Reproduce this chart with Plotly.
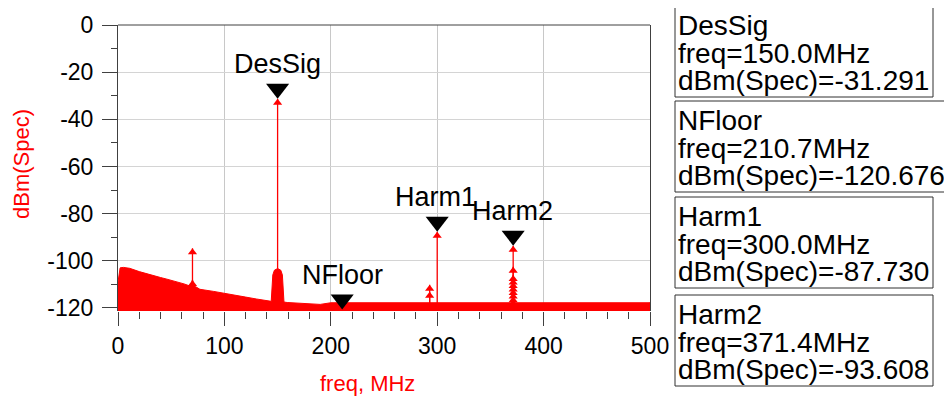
import plotly.graph_objects as go

# ---------------- data ----------------
# Upper envelope of the dense noise spectrum, freq in MHz, level in dBm
env_freq = [0, 1, 2, 5, 11, 20, 30, 40, 46, 55, 62, 67, 69, 70, 71, 73, 77, 90,
            100, 108, 120, 130, 140, 144, 145.5, 147, 150, 153, 154.5, 156, 159,
            170, 177, 190, 200, 500]
env_dbm = [-109, -104.5, -103, -102.8, -103.2, -104.6, -106, -107.1, -107.8,
           -108.8, -109.8, -110.6, -110.2, -108.1, -110.3, -111, -112.1, -113,
           -113.7, -114.5, -115.4, -116.2, -116.9, -117.2, -106, -104, -103.3,
           -104, -106, -117.5, -117.7, -118, -118.3, -118.5, -117.8, -117.8]
floor_base = -125.0

# Discrete spectral lines (tones) with arrow tips
spike_freq = [70, 70, 150, 292.9, 292.9, 300,
              371.4, 371.4, 371.4, 371.4, 371.4, 371.4, 371.4, 371.4, 371.4, 371.4,
              499.5]
spike_dbm = [-94.7, -108.2, -31.291, -110.2, -113.1, -87.730,
             -93.608, -102.5, -106.0, -107.5, -109.0, -110.5, -112.0, -113.5, -115.0, -116.5,
             -117.8]

# ADS markers
marker_names = ["DesSig", "NFloor", "Harm1", "Harm2"]
marker_freq = [150.0, 210.7, 300.0, 371.4]
marker_dbm = [-31.291, -120.676, -87.730, -93.608]

x_ticks = [0, 100, 200, 300, 400, 500]
y_ticks = [0, -20, -40, -60, -80, -100, -120]

# ---------------- layout geometry ----------------
OFF = 8                      # page body margin
W, H = 952 - OFF, 400 - OFF
L, T = 118 - OFF, 25 - OFF
PW, PH = 532, 286
R, B = W - L - PW, H - T - PH
FONT = "Liberation Sans, Arial, sans-serif"
RED = "#ff0000"
AXC = "#404040"


def px_x(px):
    return (px - OFF - L) / PW


def px_y(py):
    return (H - B - (py - OFF)) / PH


fig = go.Figure()

# noise floor (filled region)
fig.add_trace(go.Scatter(x=[env_freq[0], env_freq[-1]], y=[floor_base, floor_base],
                         mode="lines", line=dict(width=0, color=RED),
                         hoverinfo="skip", showlegend=False))
fig.add_trace(go.Scatter(x=env_freq, y=env_dbm, mode="lines", fill="tonexty",
                         fillcolor=RED, line=dict(color=RED, width=1),
                         hoverinfo="skip", showlegend=False))

# spectral lines
lx, ly = [], []
for f, v in zip(spike_freq, spike_dbm):
    lx += [f, f, None]
    ly += [floor_base, v, None]
fig.add_trace(go.Scatter(x=lx, y=ly, mode="lines", line=dict(color=RED, width=1.3),
                         hoverinfo="skip", showlegend=False))
fig.add_trace(go.Scatter(x=spike_freq, y=spike_dbm, mode="markers",
                         marker=dict(symbol="triangle-up", size=8, color=RED,
                                     standoff=4, line=dict(width=0)),
                         hoverinfo="skip", showlegend=False))

# black marker triangles (tip on the data point)
fig.add_trace(go.Scatter(x=marker_freq, y=marker_dbm, mode="markers",
                         marker=dict(symbol="triangle-up", size=20, color="black",
                                     angle=180, standoff=10, line=dict(width=0)),
                         hoverinfo="skip", showlegend=False))

ann = []
label_xshift = [0, 0, -2, -1]
for name, f, v, xs in zip(marker_names, marker_freq, marker_dbm, label_xshift):
    ann.append(dict(x=f, y=v, xref="x", yref="y", text=name, showarrow=False,
                    yanchor="bottom", xanchor="center", yshift=18, xshift=xs,
                    font=dict(family=FONT, size=27, color="black")))

# readout boxes on the right
box_top = [6, 101, 197, 295]
box_right = [933, 947, 933, 933]
box_left = 675
box_h = 91
shapes = []
for i, (name, f, v) in enumerate(zip(marker_names, marker_freq, marker_dbm)):
    top = box_top[i]
    shapes.append(dict(type="rect", xref="paper", yref="paper",
                       x0=px_x(box_left), x1=px_x(box_right[i]),
                       y0=px_y(top + box_h), y1=px_y(top),
                       line=dict(color="#303030", width=1)))
    lines = [name, f"freq={f:.1f}MHz", f"dBm(Spec)={v:.3f}"]
    for j, txt in enumerate(lines):
        baseline = top + 29 + 27.5 * j
        ann.append(dict(x=px_x(box_left + 1), y=px_y(baseline - 9.5), xref="paper",
                        yref="paper", text=txt, showarrow=False, xanchor="left",
                        yanchor="middle",
                        font=dict(family=FONT, size=28, color="black")))

# axis titles
ann.append(dict(x=px_x(367), y=px_y(383), xref="paper", yref="paper",
                text="freq, MHz", showarrow=False, xanchor="center", yanchor="middle",
                font=dict(family=FONT, size=22, color=RED)))
ann.append(dict(x=px_x(21), y=px_y(164), xref="paper", yref="paper",
                text="dBm(Spec)", showarrow=False, textangle=-90,
                xanchor="center", yanchor="middle",
                font=dict(family=FONT, size=22, color=RED)))

# top border
shapes.append(dict(type="line", xref="paper", yref="paper", x0=0, x1=1, y0=1, y1=1,
                   line=dict(color=AXC, width=1)))

fig.update_layout(
    width=W, height=H,
    margin=dict(l=L, r=R, t=T, b=B, pad=0, autoexpand=False),
    paper_bgcolor="white", plot_bgcolor="white",
    showlegend=False, hovermode=False,
    font=dict(family=FONT, size=22, color="black"),
    annotations=ann, shapes=shapes,
    xaxis=dict(range=[0, 500], tickvals=x_ticks, ticktext=[str(v) for v in x_ticks],
               ticks="outside", ticklen=14,
               tickcolor=AXC, tickwidth=1, showgrid=True, gridcolor="#c8c8c8",
               gridwidth=1, showline=False, zeroline=False, automargin=False,
               tickfont=dict(family=FONT, size=23, color="black"),
               minor=dict(dtick=20, ticks="outside", ticklen=7, tickcolor=AXC,
                          showgrid=False)),
    yaxis=dict(range=[-121.3, 0], tickvals=y_ticks, ticktext=[str(v) for v in y_ticks],
               ticks="outside", ticklen=15, ticklabelstandoff=4,
               tickcolor=AXC, tickwidth=1, showgrid=True, gridcolor="#d4d4d4",
               gridwidth=1, showline=True, mirror=True, linecolor=AXC, linewidth=1,
               zeroline=False, automargin=False,
               tickfont=dict(family=FONT, size=23, color="black"),
               minor=dict(dtick=10, ticks="outside", ticklen=6, tickcolor=AXC,
                          showgrid=False)),
)

fig.write_html("out.html")
